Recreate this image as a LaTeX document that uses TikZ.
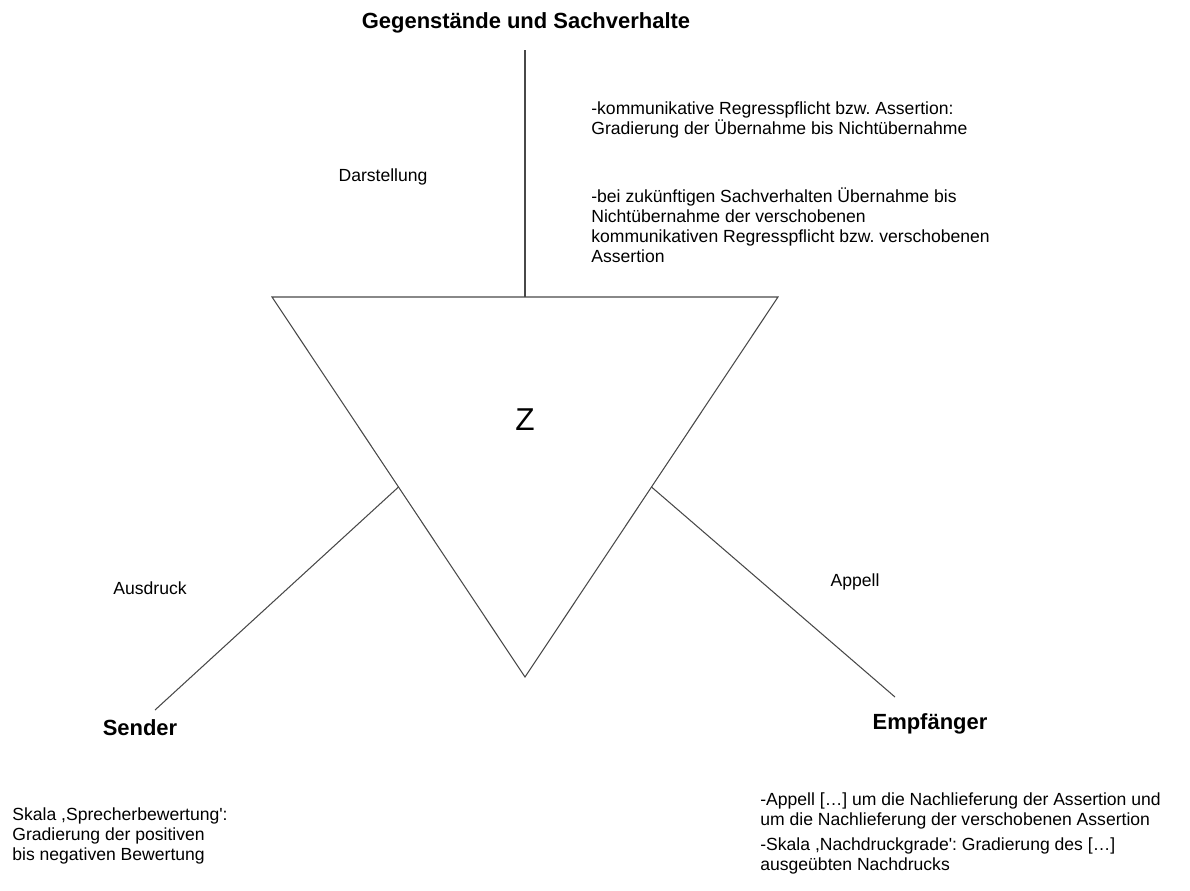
\documentclass[tikz,border=0pt]{standalone}
\usepackage{fontspec}
\setmainfont{Liberation Sans}
\usepackage{tikz}
\usetikzlibrary{calc}
\definecolor{linegray}{RGB}{72,72,72}
\frenchspacing

\begin{document}
\begin{tikzpicture}[
    x=0.02cm, y=-0.02cm,
    edge/.style={draw=linegray, line width=0.6pt},
    heading/.style={font=\fontsize{12.5}{15}\selectfont\bfseries, inner sep=0pt, anchor=base},
    axislabel/.style={font=\fontsize{10}{11.4}\selectfont, inner sep=0pt, anchor=base},
    note/.style={font=\fontsize{10}{11.4}\selectfont, inner sep=0pt, anchor=north west, align=left},
]
\useasboundingbox (0,0) rectangle (1190,890);

% Triangle
\coordinate (tl) at (272,297);
\coordinate (tr) at (778,297);
\coordinate (apex) at (525,677);
\draw[edge] (tl) -- (tr) -- (apex) -- cycle;
\coordinate (topmid) at ($(tl)!0.5!(tr)$);
\coordinate (leftmid) at ($(tl)!0.5!(apex)$);
\coordinate (rightmid) at ($(tr)!0.5!(apex)$);
\node[font=\fontsize{18}{20}\selectfont] (zsign) at (525,420) {Z};

% Headings
\node[heading] (objects) at (526,28) {Gegenstände und Sachverhalte};
\node[heading] (sender) at (140,735) {Sender};
\node[heading] (receiver) at (930,729) {Empfänger};

% Line ends
\coordinate (objectsend) at (525,50);
\coordinate (senderend) at (155,710);
\coordinate (receiverend) at (895,697);

% Functions
\node[axislabel] (darst) at (383,181) {Darstellung};
\node[axislabel] (ausdr) at (150,594) {Ausdruck};
\node[axislabel] (appell) at (855,586) {Appell};

% Notes
\node[note] (noteassert) at (591,101)
    {-kommunikative Regresspflicht bzw. Assertion:\\Gradierung der Übernahme bis Nichtübernahme};
\node[note] (notefuture) at (591,187)
    {-bei zukünftigen Sachverhalten Übernahme bis\\Nichtübernahme der verschobenen\\kommunikativen Regresspflicht bzw. verschobenen\\Assertion};
\node[note] (notesender) at (12,807)
    {Skala ,Sprecherbewertung\textquotesingle:\\Gradierung der positiven\\bis negativen Bewertung};
\node[note] (noteappell) at (760,792)
    {-Appell […] um die Nachlieferung der Assertion und\\um die Nachlieferung der verschobenen Assertion};
\node[note] (notescale) at (760,837)
    {-Skala ,Nachdruckgrade\textquotesingle: Gradierung des […]\\ausgeübten Nachdrucks};

% Lines
\draw[edge] (topmid) -- (objectsend);
\draw[edge] (leftmid) -- (senderend);
\draw[edge] (rightmid) -- (receiverend);

\end{tikzpicture}
\end{document}
